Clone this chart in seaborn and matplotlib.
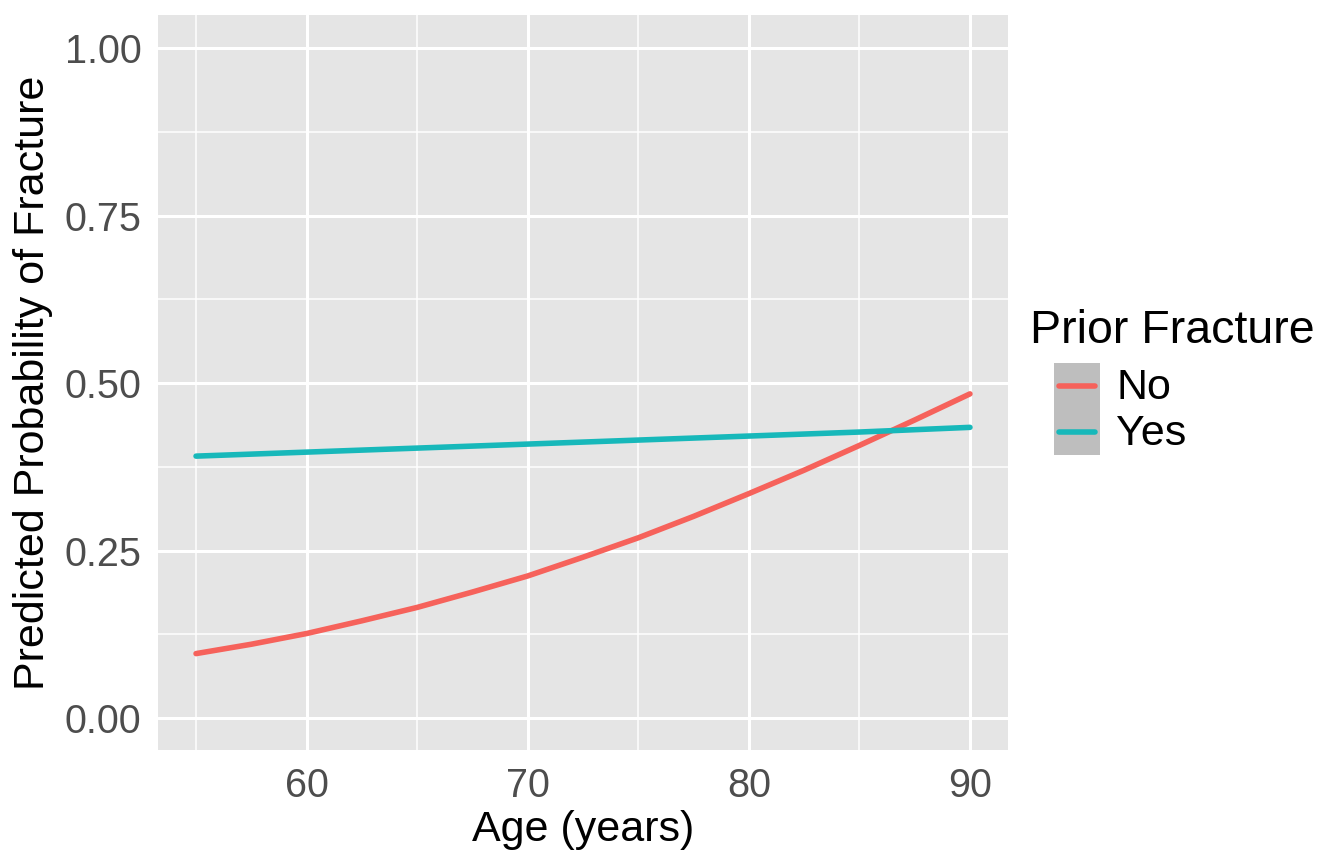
import matplotlib
matplotlib.use("Agg")
import matplotlib.pyplot as plt
import seaborn as sns
import pandas as pd
from matplotlib.lines import Line2D
from matplotlib.patches import Rectangle

# values
age_no = [55, 57.5, 60, 62.5, 65, 67.5, 70, 72.5, 75, 77.5, 80, 82.5, 85, 87.5, 90]
prob_no = [0.096, 0.110, 0.126, 0.145, 0.165, 0.188, 0.212, 0.240, 0.269,
           0.301, 0.335, 0.370, 0.407, 0.445, 0.484]
age_yes = [55, 60, 65, 70, 75, 80, 85, 90]
prob_yes = [0.391, 0.397, 0.403, 0.409, 0.415, 0.421, 0.427, 0.434]
groups = ["No", "Yes"]
colors = ["#F6625B", "#17B8BA"]

df = pd.DataFrame({
    "age": age_no + age_yes,
    "prob": prob_no + prob_yes,
    "prior": ["No"] * len(age_no) + ["Yes"] * len(age_yes),
})

sns.set_theme(style="darkgrid", rc={
    "axes.facecolor": "#E5E5E5",
    "grid.color": "white",
    "axes.edgecolor": "none",
    "text.color": "black",
})
plt.rcParams["font.family"] = ["Liberation Sans", "DejaVu Sans"]

fig = plt.figure(figsize=(13.44, 8.64), dpi=100)
ax = fig.add_axes([158 / 1344, 1 - 750 / 864, (1008 - 158) / 1344, (750 - 15) / 864])

palette = dict(zip(groups, colors))
sns.lineplot(data=df, x="age", y="prob", hue="prior", palette=palette,
             linewidth=4, ax=ax, legend=False)

ax.set_xlim(53.28, 91.72)
ax.set_ylim(-0.048, 1.05)
ax.set_xticks([60, 70, 80, 90])
ax.set_yticks([0, 0.25, 0.5, 0.75, 1.0])
ax.set_yticklabels(["0.00", "0.25", "0.50", "0.75", "1.00"])
ax.set_xticks([55, 65, 75, 85], minor=True)
ax.set_yticks([0.125, 0.375, 0.625, 0.875], minor=True)
ax.grid(which="major", color="white", linewidth=2.2)
ax.grid(which="minor", color="white", linewidth=1.1)
ax.tick_params(which="major", length=7, width=2, color="#333333",
               labelsize=28.5, labelcolor="#4D4D4D", pad=5)
ax.tick_params(which="minor", length=0)
for s in ax.spines.values():
    s.set_visible(False)

ax.set_xlabel("Age (years)", fontsize=31, color="black", labelpad=4)
ax.set_ylabel("Predicted Probability of Fracture", fontsize=31, color="black", labelpad=8)

# legend in the ggplot manner: grey key boxes beside the panel
fig.text(1030 / 1344, 1 - 331 / 864, "Prior Fracture", fontsize=33.5,
         va="center", ha="left", color="black")
fig.add_artist(Rectangle((1054 / 1344, 1 - 455 / 864), 46 / 1344, 92 / 864,
                         transform=fig.transFigure, facecolor="#BEBEBE",
                         edgecolor="none"))
for i, (g, c) in enumerate(zip(groups, colors)):
    yc = 1 - (386 + 46 * i) / 864
    fig.add_artist(Line2D([1059 / 1344, 1095 / 1344], [yc, yc],
                          transform=fig.transFigure, color=c, linewidth=4))
    fig.text(1116 / 1344, yc - 2 / 864, g, fontsize=31, va="center", ha="left",
             color="black")

fig.savefig("out.png", dpi=100)
